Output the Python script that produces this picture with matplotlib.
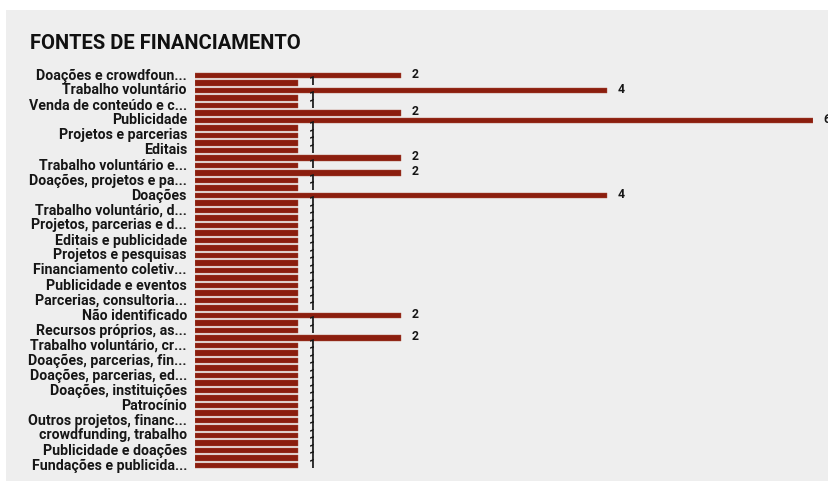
import matplotlib
matplotlib.use("Agg")
import matplotlib.pyplot as plt
from matplotlib.patches import Rectangle

W, H, DPI = 829, 488, 100

title = "FONTES DE FINANCIAMENTO"

# Labels shown on the axis (every other row)
tick_labels = [
    "Doações e crowdfoun...",
    "Trabalho voluntário",
    "Venda de conteúdo e c...",
    "Publicidade",
    "Projetos e parcerias",
    "Editais",
    "Trabalho voluntário e...",
    "Doações, projetos e pa...",
    "Doações",
    "Trabalho voluntário, d...",
    "Projetos, parcerias e d...",
    "Editais e publicidade",
    "Projetos e pesquisas",
    "Financiamento coletiv...",
    "Publicidade e eventos",
    "Parcerias, consultoria...",
    "Não identificado",
    "Recursos próprios, as...",
    "Trabalho voluntário, cr...",
    "Doações, parcerias, fin...",
    "Doações, parcerias, ed...",
    "Doações, instituições",
    "Patrocínio",
    "Outros projetos, financ...",
    "crowdfunding, trabalho",
    "Publicidade e doações",
    "Fundações e publicida...",
]

# Count per funding source, one entry per row
values = [
    2, 1, 4, 1, 1, 2, 6, 1, 1, 1,
    1, 2, 1, 2, 1, 1, 4, 1, 1, 1,
    1, 1, 1, 1, 1, 1, 1, 1, 1, 1,
    1, 1, 2, 1, 1, 2, 1, 1, 1, 1,
    1, 1, 1, 1, 1, 1, 1, 1, 1, 1,
    1, 1, 1,
]

BAR_COLOR = "#8b1e0e"
BG = "#eeeeee"
TEXT = "#161616"
FONT = "Roboto"

fig = plt.figure(figsize=(W / DPI, H / DPI), dpi=DPI, facecolor="white")

# Light panel behind the chart
fig.patches.append(Rectangle((6 / W, 1 - 481 / H), (W - 6) / W, (481 - 10) / H,
                             transform=fig.transFigure, facecolor=BG,
                             edgecolor="none", zorder=-10))

fig.text(30 / W, 1 - 49 / H, title, fontsize=14.5, fontweight="bold",
         family=FONT, color="#111111", va="baseline", ha="left")

n = len(values)
row_px = 7.5
top_px = 75.5 - row_px / 2
bottom_px = top_px + row_px * n
left_px = 195
unit_px = 103
xmax = 6

ax = fig.add_axes([left_px / W, 1 - bottom_px / H, unit_px * xmax / W,
                   (bottom_px - top_px) / H])
ax.set_zorder(5)
ax.set_facecolor("none")
ax.set_xlim(0, xmax)
ax.set_ylim(n - 0.5, -0.5)

ypos = list(range(n))
ax.barh(ypos, values, height=0.68, color=BAR_COLOR, edgecolor="#a85040",
        linewidth=0.3)

for y, v in zip(ypos, values):
    ax.annotate(str(v), (v, y), xytext=(7.7, 0.9), textcoords="offset points",
                ha="left", va="center", fontsize=8.8, fontweight="bold",
                family=FONT, color=TEXT, annotation_clip=False)

ax.set_yticks(ypos[::2])
ax.set_yticklabels(tick_labels, fontsize=10.2, fontweight="bold", family=FONT,
                   color=TEXT, va="center")
ax.tick_params(axis="y", length=0, pad=5.8)
ax.set_xticks([])
for s in ax.spines.values():
    s.set_visible(False)

fig.savefig("out.png", dpi=DPI, facecolor="white")
